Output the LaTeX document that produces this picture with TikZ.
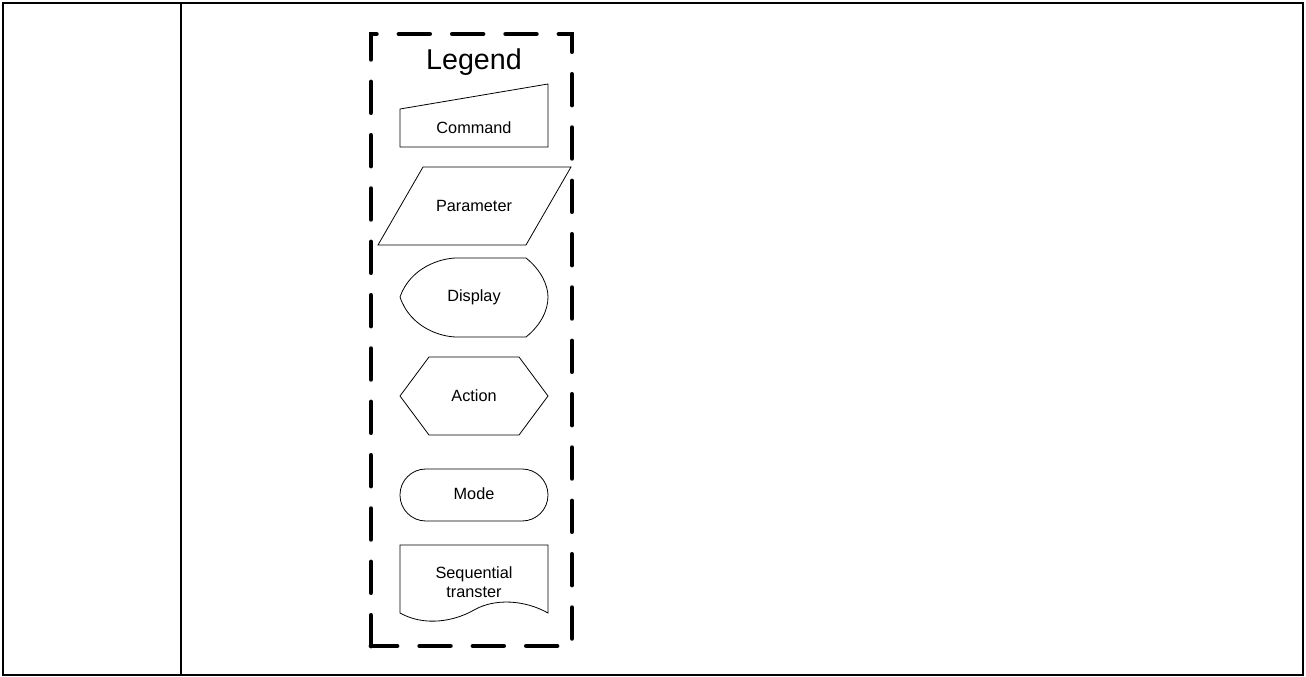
\documentclass[tikz,border=0pt]{standalone}
\usepackage{fontspec}
\setmainfont{Liberation Sans}
\usetikzlibrary{positioning}
\begin{document}
\begin{tikzpicture}[x=0.75pt,y=-0.75pt,
frame/.style={line width=2.2pt},
legendbox/.style={line width=3.6pt,dash pattern=on 23pt off 17pt,line cap=round},
sym/.style={line width=0.6pt},
lbl/.style={font=\fontsize{12.2}{14}\selectfont,align=center}]
\useasboundingbox (0,0) rectangle (1306,677);
\draw[frame] (3,3) rectangle (1303,675);
\draw[frame] (181,3) -- (181,675);
% legend box
\draw[legendbox] (371,646) -- (371,34) -- (572,34) -- (572,646) -- cycle;
\node[font=\fontsize{21.5}{24}\selectfont] (legend) at (474,62) {Legend};
% symbols
\draw[sym] (400,109) -- (548,84) -- (548,147) -- (400,147) -- cycle;
\node[lbl] (command) at (474,128) {Command};
\draw[sym] (423,167) -- (571,167) -- (526,245) -- (378,245) -- cycle;
\node[lbl] (parameter) at (474,206) {Parameter};
\draw[sym] (400,297) .. controls (410,268) and (440,258) .. (457,258) -- (526,258)
  .. controls (541,270) and (548,285) .. (548,297) .. controls (548,310) and (541,325) .. (526,337)
  -- (457,337) .. controls (440,337) and (410,327) .. (400,297) -- cycle;
\node[lbl] (display) at (474,297) {Display};
\draw[sym] (400,396) -- (429,357) -- (519,357) -- (548,396) -- (519,435) -- (429,435) -- cycle;
\node[lbl] (action) at (474,396) {Action};
\draw[sym,rounded corners=19.4pt] (400,469) rectangle (548,521);
\node[lbl] (mode) at (474,494) {Mode};
\draw[sym] (400,545) -- (548,545) -- (548,613) .. controls (525,600) and (495,598) .. (474,610)
  .. controls (455,621) and (425,627) .. (400,613) -- cycle;
\node[lbl] (seqtransfer) at (474,582) {Sequential\\transter};
\end{tikzpicture}
\end{document}
